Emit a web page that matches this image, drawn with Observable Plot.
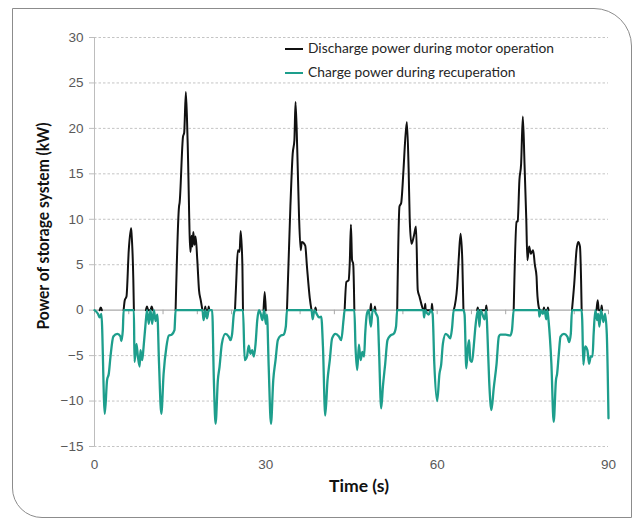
<!DOCTYPE html>
<html>
<head>
<meta charset="utf-8">
<script src="https://cdn.jsdelivr.net/npm/d3@7"></script>
<script src="https://cdn.jsdelivr.net/npm/@observablehq/plot@0.6"></script>
<style>
  html, body { margin: 0; padding: 0; background: #fff; }
  body { width: 635px; height: 522px; position: relative; overflow: hidden; }
  #frame { position: absolute; left: 12px; top: 8px; width: 620px; height: 510px;
           border: 1px solid #8c8c8c; border-radius: 0 38px 0 30px; box-sizing: border-box; }
  #chart { position: absolute; left: 0; top: 0; }
  #titles { position: absolute; left: 0; top: 0; }
  .legend { position: absolute; left: 285px; font-family: Lato, "Open Sans", sans-serif; font-size: 13.8px; color: #262626; white-space: nowrap; }
  .legend span.sw { display: inline-block; width: 18px; height: 2px; vertical-align: middle; margin-right: 5px; position: relative; top: -1px; }
</style>
</head>
<body>
<div id="frame"></div>
<div id="chart"></div>
<div class="legend" style="top:39px"><span class="sw" style="background:#111"></span>Discharge power during motor operation</div>
<div class="legend" style="top:63px"><span class="sw" style="background:#1d9e8c"></span>Charge power during recuperation</div>
<svg id="titles" width="635" height="522" font-family="Lato, sans-serif" font-weight="bold" font-size="17" fill="#111">
  <text transform="translate(49,226) rotate(-90)" text-anchor="middle" textLength="207" lengthAdjust="spacingAndGlyphs">Power of storage system (kW)</text>
  <text x="359" y="492" text-anchor="middle" textLength="60" lengthAdjust="spacingAndGlyphs">Time (s)</text>
</svg>
<script>
// ---- data ----
const seriesNames = ["Discharge power during motor operation", "Charge power during recuperation"];
const yTicks = [-15, -10, -5, 0, 5, 10, 15, 20, 25, 30];
const xTicks = [0, 30, 60, 90];
const zeroTicks = [0, 6, 12, 18, 24, 30, 36, 42, 48, 54, 60, 66, 72, 78, 84, 90];

// discharge (null breaks the line between operating phases)
const dischargeTime = [
  0.9, 1.1, 1.3, 1.4,
  5.1, 5.3, 5.6, 6.0, 6.4, 6.5, 6.8, 6.9, 7.0,
  9.0, 9.2, 9.4, 9.8, 10.0, 10.2, 10.3,
  14.2, 14.8, 14.9, 15.5, 15.7, 16.0, 16.3, 16.8, 17.0, 17.15, 17.3, 17.5, 17.7, 18.0, 18.3, 18.6, 18.9, 19.0,
  19.3, 19.4, 19.5, 19.9, 20.0, 20.1, 20.2,
  24.6, 24.8, 25.1, 25.4, 25.6, 25.9, 26.0, 26.1,
  29.6, 29.8, 30.0, 30.1,
  33.7, 34.3, 34.7, 35.0, 35.2, 35.5, 35.8, 36.1, 36.3, 36.9, 37.2, 37.7, 38.0, 38.1,
  38.6, 38.7, 38.8, 38.9,
  43.8, 44.1, 44.5, 44.7, 44.9, 45.1, 45.3, 45.5, 45.6,
  48.3, 48.4, 48.5, 49.0, 49.1, 49.2, 49.3,
  53.0, 53.4, 53.7, 54.1, 54.4, 54.7, 55.0, 55.2, 55.5, 55.9, 56.3, 56.6, 56.9, 57.4, 57.6, 57.7,
  57.8, 57.9, 58.0, 59.0, 59.1, 59.2, 59.3,
  62.9, 63.5, 63.8, 64.1, 64.4, 64.6, 64.7,
  67.0, 67.1, 67.2, 68.5, 68.6, 68.7, 68.8,
  73.4, 73.9, 74.1, 74.4, 74.7, 75.0, 75.3, 75.6, 75.8, 76.1, 76.4, 76.8, 77.1, 77.4, 77.5, 77.8, 78.0, 78.1,
  78.6, 78.7, 78.8, 79.3, 79.4, 79.5, 79.6,
  83.6, 84.0, 84.4, 84.7, 85.0, 85.2, 85.3, 85.4,
  87.9, 88.1, 88.3, 88.7, 88.8, 88.9
];
const dischargePower = [
  0, 0.3, 0, null,
  0, 1.1, 1.5, 6.6, 9.0, 8.3, 3.3, 0, null,
  0, 0.4, 0, 0, 0.4, 0, null,
  0, 11.4, 11.8, 19.1, 19.5, 24.0, 18.7, 6.4, 8.2, 7.0, 8.6, 7.2, 8.1, 5.5, 2.2, 1.1, 0, null,
  0, 0.4, 0, 0, 0.4, 0, null,
  0, 2.9, 6.6, 6.4, 8.7, 4.8, 0, null,
  0, 2.0, 0, null,
  0, 11.4, 17.2, 18.7, 22.9, 17.7, 10.6, 6.6, 7.5, 7.1, 4.8, 1.3, 0, null,
  0, 0.3, 0, null,
  0, 3.1, 3.3, 5.3, 9.4, 5.5, 5.1, 0, null,
  0, 0.7, 0, 0, 0.4, 0, null,
  0, 11.4, 11.8, 15.4, 18.7, 20.7, 15.6, 9.9, 7.3, 8.1, 9.2, 2.2, 1.5, 0.3, 0, null,
  0, 0.7, 0, 0, 0.7, 0, null,
  0, 2.6, 5.9, 8.4, 5.5, 0, null,
  0, 0.3, 0, 0, 0.5, 0, null,
  0, 9.7, 9.8, 14.3, 16.1, 21.3, 16.0, 10.1, 5.5, 7.0, 6.2, 6.6, 5.0, 3.7, 2.2, 0.3, 0, null,
  0, 0.3, 0, 0, 0.3, 0, null,
  0, 2.9, 6.6, 7.5, 7.0, 3.3, 0, null,
  0, 1.1, 0, 0, 0.5, 0
];

const chargeTime = [
  0, 0.6, 0.9, 1.2, 1.8, 2.2, 2.5, 2.8, 3.3, 4.0, 4.55, 4.7, 4.96, 5.1, 6.9,
  7.0, 7.35, 7.6, 7.9, 8.05, 8.35, 8.6, 8.9, 9.2, 9.5, 9.8, 10.1, 10.4, 10.7, 11.0,
  11.3, 11.7, 12.1, 12.6, 13.0, 13.5, 14.0, 14.2, 18.9,
  19.1, 19.4, 19.7, 20.0, 20.6, 20.9, 21.2, 21.6, 21.9, 22.3, 22.9, 23.5, 23.8, 24.1, 24.4, 24.6, 26.0,
  26.3, 26.7, 27.0, 27.3, 27.6, 27.9, 28.2, 28.5, 28.8, 29.1, 29.4, 29.7, 30.0, 30.2,
  30.5, 30.9, 31.3, 31.7, 32.1, 32.6, 33.1, 33.5, 33.7, 38.0,
  38.2, 38.5, 38.9, 39.3, 39.7, 40.0, 40.4, 40.8, 41.2, 41.6, 42.2, 42.8, 43.2, 43.6, 43.8, 45.5,
  45.7, 46.0, 46.3, 46.6, 46.9, 47.2, 47.4, 47.7, 48.0, 48.4, 48.7, 49.0, 49.3, 49.6,
  49.8, 50.2, 50.5, 50.9, 51.3, 51.8, 52.4, 52.8, 53.0, 57.6,
  57.7, 57.9, 58.2, 58.5, 58.9, 59.2, 59.5, 60.0, 60.4, 60.7, 61.0, 61.5, 61.9, 62.3, 62.6, 62.9, 64.6,
  64.8, 65.1, 65.4, 65.6, 65.8, 66.1, 66.4, 66.7, 67.0, 67.2, 67.4, 67.6, 67.9, 68.3, 68.6,
  68.8, 69.1, 69.5, 69.9, 70.4, 70.8, 71.1, 72.0, 72.8, 73.1, 73.4, 77.8,
  77.9, 78.2, 78.5, 78.8, 79.1, 79.3, 79.5, 80.0, 80.4, 80.8, 81.0, 81.3, 81.6, 82.2, 82.8, 83.1, 83.4, 83.6, 85.3,
  85.4, 85.6, 85.9, 86.3, 86.6, 86.9, 87.2, 87.4, 87.7, 88.0, 88.2, 88.4, 88.7, 89.1, 89.4, 89.7, 90.0
];
const chargePower = [
  0, -0.4, -0.8, -0.4, -11.4, -7.7, -7.0, -5.1, -2.9, -2.6, -2.9, -3.4, -2.2, 0, 0,
  -5.7, -3.7, -5.1, -6.2, -4.4, -5.5, -4.0, -1.8, 0, -1.5, 0, -1.5, 0, -1.2, -0.5,
  -5.9, -11.4, -7.0, -4.0, -2.8, -2.7, -2.2, 0, 0,
  -1.1, 0, -0.9, 0, 0, -7.7, -12.5, -7.7, -6.2, -3.7, -2.6, -2.9, -3.3, -2.6, -0.4, 0, 0,
  -5.5, -5.1, -3.9, -4.8, -4.4, -5.1, -3.7, -1.1, 0, -0.4, -1.1, 0, -1.5, -0.5,
  -6.2, -12.5, -7.7, -5.5, -3.3, -2.8, -2.7, -1.8, 0, 0,
  -1.0, 0, -0.4, -0.8, -0.7, -4.0, -11.6, -7.7, -5.5, -3.1, -2.6, -2.9, -3.3, -1.1, 0, 0,
  -4.0, -6.6, -3.8, -5.5, -4.6, -5.1, -2.6, -0.4, 0, -1.8, 0, 0, -0.4, -0.8,
  -4.0, -10.8, -8.4, -5.9, -3.3, -2.8, -2.6, -1.8, 0, 0,
  -0.8, 0, -0.3, -0.5, 0, -0.4, -5.9, -10.0, -7.0, -6.0, -3.7, -2.6, -2.8, -3.1, -2.0, 0, 0,
  -0.5, -6.4, -4.0, -3.3, -5.5, -5.7, -4.0, -1.8, -0.4, 0, -1.8, 0, -0.4, -1.0, 0,
  -2.6, -7.7, -11.0, -8.6, -5.9, -2.9, -2.7, -2.7, -2.8, -2.2, 0, 0,
  -0.7, 0, -0.4, 0, -1.0, 0, -1.1, -5.9, -12.3, -7.7, -7.0, -4.8, -2.9, -2.6, -2.9, -3.5, -2.6, 0, 0,
  -1.1, -6.0, -4.0, -4.4, -5.9, -5.1, -5.1, -2.6, 0, -1.1, -0.4, -1.8, 0, -1.3, -0.4, -2.6, -11.9
];

const colors = ["#111111", "#1d9e8c"];

// tables built from the arrays
const discharge = dischargeTime.map((t, i) => ({t, p: dischargePower[i]}));
const charge = chargeTime.map((t, i) => ({t, p: chargePower[i]}));

const chart = Plot.plot({
  width: 635,
  height: 522,
  marginLeft: 94,
  marginRight: 27,
  marginTop: 37,
  marginBottom: 76,
  style: {fontFamily: "'Liberation Sans', Arial, sans-serif", background: "transparent", overflow: "visible"},
  x: {domain: [0, 90]},
  y: {domain: [-15, 30]},
  marks: [
    Plot.gridY(yTicks.filter(v => v !== 0), {stroke: "#c4c4c4", strokeOpacity: 1, strokeDasharray: "2.5,2"}),
    Plot.axisY(yTicks, {tickSize: 5, tickPadding: 6, stroke: "#bdbdbd", fill: "#595959", fontSize: 13.5, label: null}),
    Plot.axisX(xTicks, {tickSize: 0, tickPadding: 13, fill: "#595959", fontSize: 13.5, label: null}),
    Plot.ruleX([0], {stroke: "#bdbdbd"}),
    Plot.ruleY([0], {stroke: "#a8a8a8", strokeWidth: 1.2}),
    Plot.ruleX(zeroTicks, {x: d => d, y1: 0, y2: -0.5, stroke: "#a8a8a8"}),
    Plot.line(discharge, {x: "t", y: "p", stroke: colors[0], strokeWidth: 2, curve: "monotone-x"}),
    Plot.line(charge, {x: "t", y: "p", stroke: colors[1], strokeWidth: 2.3, curve: "monotone-x"})
  ]
});
document.getElementById("chart").appendChild(chart);
</script>
</body>
</html>
